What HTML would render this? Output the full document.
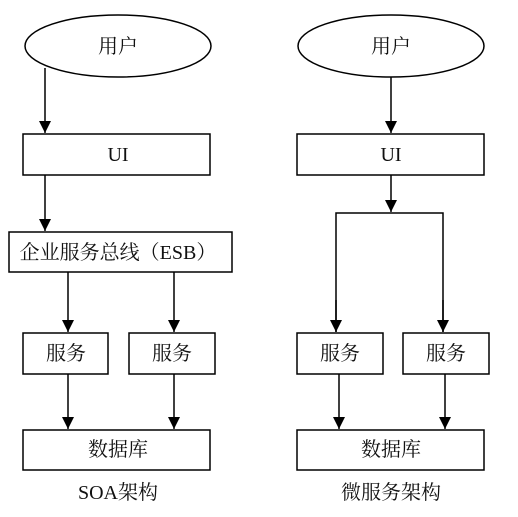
<!DOCTYPE html>
<html><head><meta charset="utf-8"><style>
html,body{margin:0;padding:0;background:#fff;}
svg{display:block}
text{font-family:"Liberation Serif","Noto Serif CJK SC",serif;font-size:20px;fill:#111;}
</style></head><body>
<svg width="518" height="517" viewBox="0 0 518 517" xmlns="http://www.w3.org/2000/svg">
<defs><marker id="a" markerWidth="12" markerHeight="12" refX="12" refY="6" orient="auto" markerUnits="userSpaceOnUse"><path d="M0,0 L12,6 L0,12 z" fill="#000"/></marker></defs>
<g stroke="#000" stroke-width="1.5" fill="none">
<ellipse cx="118" cy="46" rx="93" ry="31"/>
<rect x="23" y="134" width="187" height="41"/>
<rect x="9" y="232" width="223" height="40"/>
<rect x="23" y="333" width="85" height="41"/>
<rect x="129" y="333" width="86" height="41"/>
<rect x="23" y="430" width="187" height="40"/>
<line x1="45" y1="68" x2="45" y2="133" marker-end="url(#a)"/>
<line x1="45" y1="175" x2="45" y2="231" marker-end="url(#a)"/>
<line x1="68" y1="272" x2="68" y2="332" marker-end="url(#a)"/>
<line x1="174" y1="272" x2="174" y2="332" marker-end="url(#a)"/>
<line x1="68" y1="374" x2="68" y2="429" marker-end="url(#a)"/>
<line x1="174" y1="374" x2="174" y2="429" marker-end="url(#a)"/>

<ellipse cx="391" cy="46" rx="93" ry="31"/>
<rect x="297" y="134" width="187" height="41"/>
<rect x="297" y="333" width="86" height="41"/>
<rect x="403" y="333" width="86" height="41"/>
<rect x="297" y="430" width="187" height="40"/>
<line x1="391" y1="77" x2="391" y2="133" marker-end="url(#a)"/>
<line x1="391" y1="175" x2="391" y2="212" marker-end="url(#a)"/>
<polyline points="336,332 336,213 443,213 443,332"/>
<line x1="336" y1="300" x2="336" y2="332" marker-end="url(#a)"/>
<line x1="443" y1="300" x2="443" y2="332" marker-end="url(#a)"/>
<line x1="339" y1="374" x2="339" y2="429" marker-end="url(#a)"/>
<line x1="445" y1="374" x2="445" y2="429" marker-end="url(#a)"/>
</g>
<g text-anchor="middle">
<text x="118" y="53">用户</text>
<text x="118" y="161">UI</text>
<text x="118" y="259">企业服务总线（ESB）</text>
<text x="66" y="360">服务</text>
<text x="172" y="360">服务</text>
<text x="118" y="456">数据库</text>
<text x="118" y="499">SOA架构</text>
<text x="391" y="53">用户</text>
<text x="391" y="161">UI</text>
<text x="340" y="360">服务</text>
<text x="446" y="360">服务</text>
<text x="391" y="456">数据库</text>
<text x="391" y="499">微服务架构</text>
</g>
</svg>
</body></html>
